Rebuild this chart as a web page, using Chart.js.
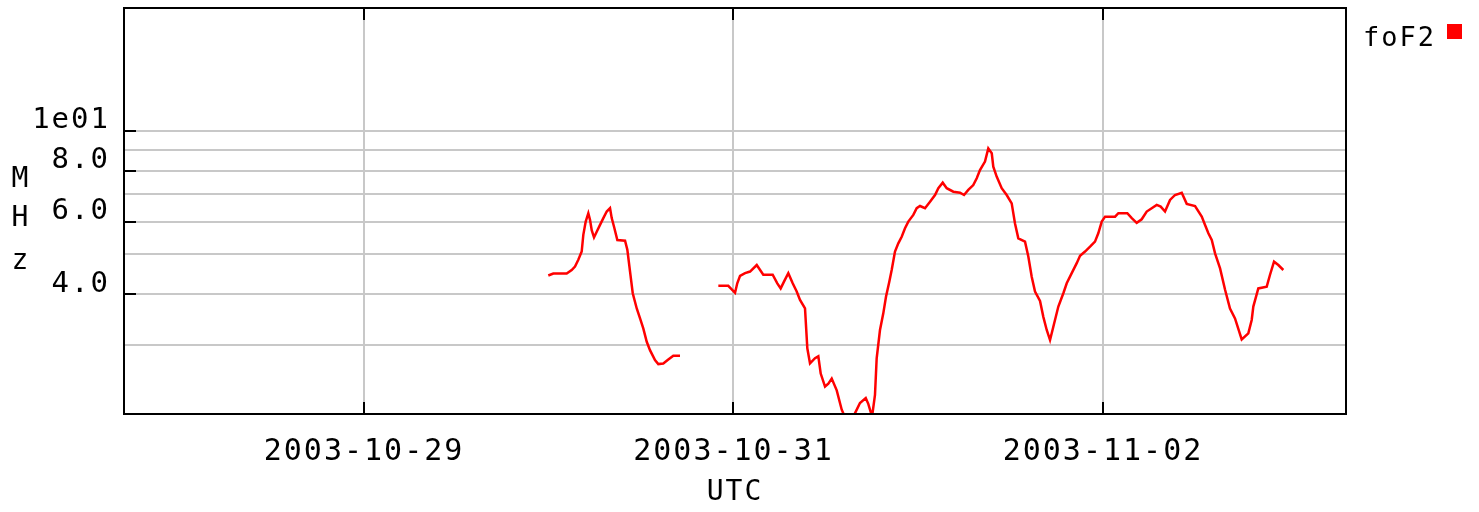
<!DOCTYPE html>
<html>
<head>
<meta charset="utf-8">
<script src="https://cdn.jsdelivr.net/npm/chart.js@4.4.0/dist/chart.umd.min.js"></script>
<style>
  html, body { margin: 0; padding: 0; background: #fff; }
</style>
</head>
<body>
<canvas id="fof2Chart" width="1479" height="512"></canvas>
<script>
// foF2 readings, hours counted from 2003-10-29 00:00 UTC (null = no data)
var hours = [
  23.94, 24.59, 26.33, 26.98, 27.41, 27.84, 28.28, 28.49, 28.80, 29.14,
  29.36, 29.58, 29.88, 30.23, 30.66, 31.09, 31.53, 31.96, 32.18, 32.48,
  32.91, 33.91, 34.21, 34.56, 34.91, 35.43, 35.86, 36.28, 36.73, 37.15,
  37.80, 38.23, 38.88, 39.53, 40.18, 41.05,
  43.50,
  46.03, 47.32, 48.20, 48.49, 48.85, 49.50, 50.15, 51.02, 51.87, 53.09,
  53.69, 54.13, 54.56, 55.12, 55.69, 56.21, 56.64, 57.29, 57.59, 57.94,
  58.59, 59.02, 59.33, 59.89, 60.32, 60.76, 61.41, 62.06, 63.01, 63.79,
  64.43, 65.18, 65.51, 66.00, 66.38, 66.60, 67.03, 67.46, 67.81, 68.24,
  68.55, 68.98, 69.41, 69.85, 70.28, 70.71, 71.36, 71.80, 72.23, 72.88,
  73.53, 74.18, 74.61, 75.18, 75.70, 76.56, 77.43, 77.95, 78.50, 79.15,
  79.60, 80.02, 80.67, 81.10, 81.55, 81.75, 82.19, 82.84, 83.49, 84.14,
  84.57, 85.00, 85.87, 86.30, 86.74, 87.17, 87.82, 88.25, 88.69, 89.12,
  89.55, 90.20, 90.85, 91.29, 91.94, 92.59, 93.02, 93.67, 94.32, 94.96,
  95.39, 95.84, 96.27, 97.57, 98.00, 99.16, 99.74, 100.38, 101.03, 101.68,
  102.33, 102.98, 103.50, 104.06, 104.71, 105.36, 106.23, 106.88, 107.96, 108.83,
  109.26, 109.69, 110.13, 110.56, 111.21, 111.86, 112.50, 113.15, 114.02, 114.88,
  115.32, 115.53, 116.18, 117.27, 117.70, 118.22, 118.78, 119.43
];
var fof2 = [
  4.44, 4.49, 4.49, 4.58, 4.67, 4.85, 5.08, 5.58, 6.01, 6.30,
  6.07, 5.73, 5.50, 5.68, 5.90, 6.13, 6.36, 6.48, 6.13, 5.84,
  5.42, 5.40, 5.13, 4.54, 4.02, 3.69, 3.49, 3.30, 3.06, 2.92,
  2.76, 2.70, 2.71, 2.77, 2.83, 2.83,
  null,
  4.19, 4.19, 4.03, 4.25, 4.43, 4.50, 4.54, 4.71, 4.46, 4.46,
  4.25, 4.13, 4.29, 4.50, 4.25, 4.06, 3.87, 3.69, 2.95, 2.71,
  2.79, 2.82, 2.56, 2.38, 2.42, 2.49, 2.33, 2.09, 1.90, 2.05,
  2.17, 2.23, 2.16, 2.01, 2.27, 2.79, 3.27, 3.59, 3.94, 4.29,
  4.58, 5.08, 5.32, 5.52, 5.79, 6.01, 6.24, 6.48, 6.56, 6.48,
  6.72, 6.98, 7.25, 7.48, 7.25, 7.11, 7.07, 6.98, 7.18, 7.38,
  7.67, 8.03, 8.42, 9.07, 8.82, 8.18, 7.74, 7.25, 6.98, 6.66,
  5.95, 5.47, 5.37, 4.94, 4.41, 4.06, 3.85, 3.52, 3.27, 3.09,
  3.33, 3.73, 4.02, 4.25, 4.50, 4.76, 4.96, 5.08, 5.22, 5.37,
  5.63, 6.01, 6.18, 6.18, 6.30, 6.30, 6.13, 5.97, 6.09, 6.36,
  6.48, 6.60, 6.54, 6.36, 6.79, 6.98, 7.07, 6.64, 6.56, 6.18,
  5.90, 5.63, 5.42, 5.03, 4.62, 4.10, 3.69, 3.49, 3.10, 3.21,
  3.46, 3.73, 4.13, 4.17, 4.46, 4.80, 4.71, 4.58
];

var xTickHours = [0, 48, 96];
var xTickLabels = ['2003-10-29', '2003-10-31', '2003-11-02'];
var yGridValues = [3, 4, 5, 6, 7, 8, 9, 10];
var yTickValues = [10, 8, 6, 4];
var yTickLabels = ['1e01', '8.0', '6.0', '4.0'];

var monoFont = '"DejaVu Sans Mono", "Liberation Mono", monospace';

var points = hours.map(function (h, i) {
  return { x: h, y: fof2[i] };
});

// frame, inner tick marks, vertical y title and the legend
var framePlugin = {
  id: 'frame',
  beforeUpdate: function (chart) { chart.ctx.letterSpacing = '2px'; },
  beforeDraw: function (chart) { chart.ctx.letterSpacing = '2px'; },
  afterDraw: function (chart) {
    var ctx = chart.ctx;
    var a = chart.chartArea;
    var xs = chart.scales.x;
    var ys = chart.scales.y;
    ctx.save();
    ctx.strokeStyle = '#000';
    ctx.lineWidth = 2;
    ctx.strokeRect(a.left, a.top, a.right - a.left, a.bottom - a.top);
    ctx.beginPath();
    xTickHours.forEach(function (t) {
      var px = Math.round(xs.getPixelForValue(t));
      ctx.moveTo(px, a.top);
      ctx.lineTo(px, a.top + 12);
      ctx.moveTo(px, a.bottom);
      ctx.lineTo(px, a.bottom - 12);
    });
    yTickValues.forEach(function (v) {
      var py = Math.round(ys.getPixelForValue(v));
      ctx.moveTo(a.left, py);
      ctx.lineTo(a.left + 12, py);
    });
    ctx.stroke();

    ctx.fillStyle = '#000';
    ctx.font = '28px ' + monoFont;
    ctx.textAlign = 'center';
    ctx.textBaseline = 'middle';
    ctx.fillText('M', 21, 180);
    ctx.fillText('H', 21, 219);
    ctx.fillText('z', 21, 262);

    ctx.textAlign = 'left';
    ctx.textBaseline = 'alphabetic';
    ctx.font = '27px ' + monoFont;
    ctx.fillText('foF2', a.right + 17, 46);
    ctx.fillStyle = 'rgb(255,0,0)';
    ctx.fillRect(a.right + 101, 24, 15, 15);
    ctx.restore();
  }
};

var ctx = document.getElementById('fof2Chart').getContext('2d');
var fof2Chart = new Chart(ctx, {
  type: 'line',
  data: {
    datasets: [{
      label: 'foF2',
      data: points,
      borderColor: 'rgb(255,0,0)',
      borderWidth: 2.5,
      pointRadius: 0,
      tension: 0,
      fill: false,
      spanGaps: false
    }]
  },
  options: {
    responsive: false,
    animation: false,
    devicePixelRatio: 1,
    layout: { padding: { left: 0, top: 8, right: 133, bottom: 0 } },
    plugins: {
      legend: { display: false },
      tooltip: { enabled: false }
    },
    scales: {
      x: {
        type: 'linear',
        min: -31.18,
        max: 127.57,
        afterBuildTicks: function (scale) {
          scale.ticks = xTickHours.map(function (v) { return { value: v }; });
        },
        afterFit: function (scale) {
          scale.height = 98;
          scale.paddingLeft = 0;
          scale.paddingRight = 0;
        },
        grid: { color: 'rgb(200,200,200)', lineWidth: 2, drawTicks: false },
        border: { display: true, color: '#000', width: 2 },
        ticks: {
          color: '#000',
          padding: 20,
          maxRotation: 0,
          font: { family: monoFont, size: 30 },
          callback: function (value) {
            var i = xTickHours.indexOf(value);
            return i >= 0 ? xTickLabels[i] : '';
          }
        },
        title: {
          display: true,
          text: 'UTC',
          color: '#000',
          font: { family: monoFont, size: 28 },
          padding: { top: 0, bottom: 2 }
        }
      },
      y: {
        type: 'logarithmic',
        min: 2.04,
        max: 19.95,
        afterBuildTicks: function (scale) {
          scale.ticks = yGridValues.map(function (v) { return { value: v }; });
        },
        afterFit: function (scale) {
          scale.width = 124;
          scale.paddingTop = 0;
          scale.paddingBottom = 0;
        },
        grid: { color: 'rgb(200,200,200)', lineWidth: 2, drawTicks: false },
        border: { display: true, color: '#000', width: 2 },
        ticks: {
          color: '#000',
          padding: 14,
          labelOffset: -10,
          font: { family: monoFont, size: 29 },
          callback: function (value) {
            var i = yTickValues.indexOf(value);
            return i >= 0 ? yTickLabels[i] : '';
          }
        }
      }
    }
  },
  plugins: [framePlugin]
});
</script>
</body>
</html>
